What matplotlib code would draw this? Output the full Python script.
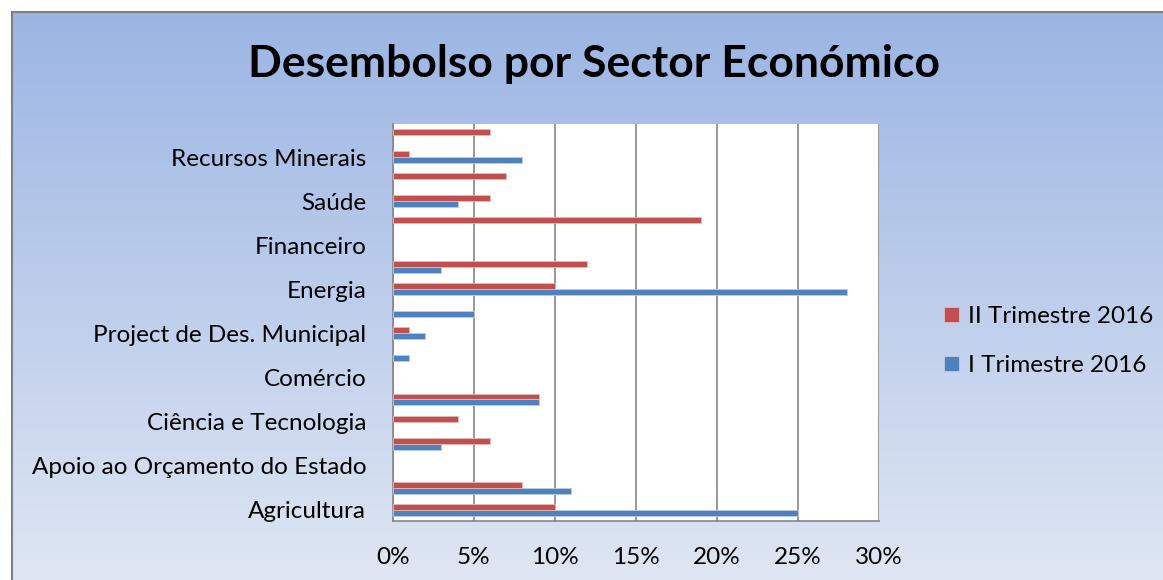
import numpy as np
import matplotlib
matplotlib.use("Agg")
import matplotlib.pyplot as plt
from matplotlib.ticker import FuncFormatter

# categories from bottom to top; Excel only shows every second label
categories = ["Agricultura", "", "Apoio ao Orçamento do Estado", "",
              "Ciência e Tecnologia", "", "Comércio", "",
              "Project de Des. Municipal", "", "Energia", "",
              "Financeiro", "", "Saúde", "", "Recursos Minerais", ""]
trim1 = [25, 11, 0, 3, 0, 9, 0, 1, 2, 5, 28, 3, 0, 0, 4, 0, 8, 0]
trim2 = [10, 8, 0, 6, 4, 9, 0, 0, 1, 0, 10, 12, 0, 19, 6, 7, 1, 6]
x_ticks = [0, 5, 10, 15, 20, 25, 30]

BLUE = "#4F81BD"
RED = "#C0504D"
FONT = "Lato"
FS = 17.5

W, H = 1163, 580
fig = plt.figure(figsize=(W / 100, H / 100), dpi=100)

# gradient background of the chart frame
bg = fig.add_axes([12 / W, 0, 1 - 12 / W, (H - 12) / H])
grad = np.linspace(0, 1, 256).reshape(-1, 1)
top = np.array([0x9B, 0xB5, 0xE3]) / 255
bot = np.array([0xDF, 0xE6, 0xF3]) / 255
img = top + (bot - top) * grad[:, :, None]
bg.imshow(img, aspect="auto", extent=[0, 1, 0, 1])
bg.set_xlim(0, 1)
bg.set_ylim(0, 1)
bg.set_xticks([])
bg.set_yticks([])
for s in ["right", "bottom"]:
    bg.spines[s].set_visible(False)
for s in ["left", "top"]:
    bg.spines[s].set_color("#808080")
    bg.spines[s].set_linewidth(1.5)

ax = fig.add_axes([392.7 / W, (H - 520.7) / H, (879 - 392.7) / W, (520.7 - 124) / H])
ax.set_facecolor("white")
y = np.arange(len(categories))
bh = 0.27


def edge_widths(vals):
    return [0.6 if v > 0 else 0 for v in vals]


ax.barh(y - bh / 2, trim1, height=bh, color=BLUE, edgecolor="#B9CDE5",
        linewidth=edge_widths(trim1), label="I Trimestre 2016", zorder=3)
ax.barh(y + bh / 2, trim2, height=bh, color=RED, edgecolor="#E6B9B8",
        linewidth=edge_widths(trim2), label="II Trimestre 2016", zorder=3)

ax.set_xlim(0, 30)
ax.set_ylim(-0.5, len(categories) - 0.5)
ax.set_xticks(x_ticks)
ax.xaxis.set_major_formatter(FuncFormatter(lambda v, p: f"{v:.0f}%"))
ax.set_yticks(y)
ax.set_yticklabels(categories)
ax.tick_params(length=0, labelsize=FS)
ax.tick_params(axis="x", pad=19)
ax.tick_params(axis="y", pad=19)
for lab in ax.get_xticklabels() + ax.get_yticklabels():
    lab.set_fontfamily(FONT)
ax.grid(axis="x", color="#868686", linewidth=1.2, zorder=1)
ax.spines["top"].set_visible(False)
ax.spines["right"].set_visible(False)
for s in ["left", "bottom"]:
    ax.spines[s].set_color("#868686")
    ax.spines[s].set_linewidth(1.2)

handles, labels = ax.get_legend_handles_labels()
fig.legend(handles[::-1], labels[::-1], loc="center left",
           bbox_to_anchor=(944 / W, (H - 341) / H), frameon=False,
           prop={"family": FONT, "size": FS}, handlelength=0.62, handleheight=0.62,
           handletextpad=0.35, labelspacing=1.15, borderpad=0, borderaxespad=0)

fig.text(594 / W, (H - 64) / H, "Desembolso por Sector Económico", ha="center",
         va="center", fontsize=32, fontweight="bold", family=FONT)

fig.savefig("out.png", dpi=100)
